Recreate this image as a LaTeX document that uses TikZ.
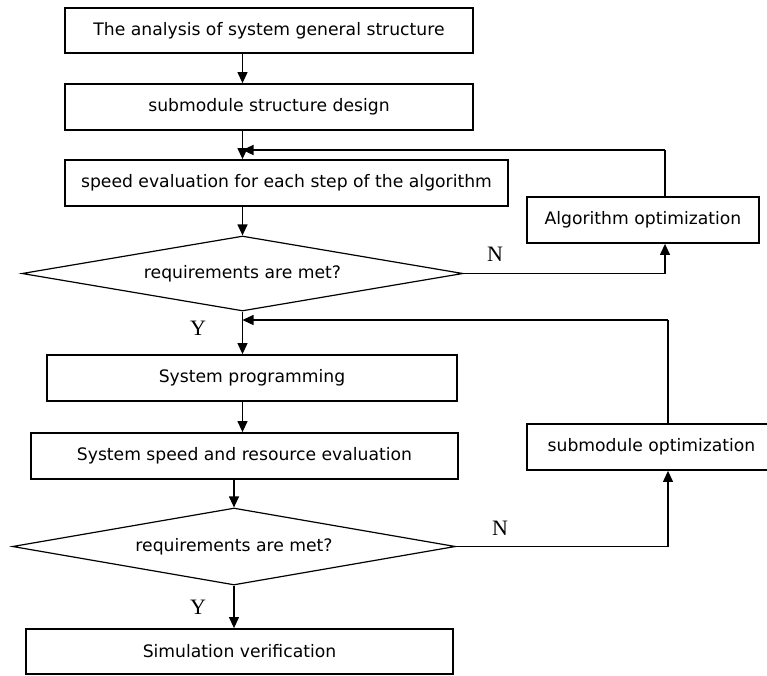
\documentclass[tikz,border=0pt]{standalone}
\usepackage{fontspec}
\setmainfont{DejaVu Sans}
\newfontfamily\ynfont{Liberation Serif}
\usetikzlibrary{arrows.meta, positioning, shapes.geometric, calc}

\begin{document}
\begin{tikzpicture}[
    x=1pt, y=-1pt,
    every node/.style={font=\fontsize{17.2}{20}\selectfont},
    procbox/.style={draw, line width=1.8pt, inner sep=0pt, minimum height=46pt},
    decide/.style={draw, diamond, line width=1.2pt, inner sep=0pt, aspect=5.8},
    flow/.style={line width=1.2pt, -{Triangle[length=11pt, width=10pt]}},
    plain/.style={line width=1.2pt},
    yn/.style={font=\ynfont\fontsize{22}{24}\selectfont},
]
    \useasboundingbox (0,0) rectangle (767,675);

    % main column
    \node[procbox, minimum width=408pt, minimum height=45pt] (analysis) at (269,30.5) {The analysis of system general structure};
    \node[procbox, minimum width=408pt] (subdesign) at (269,107) {submodule structure design};
    \node[procbox, minimum width=443pt] (speedeval) at (286.5,183) {speed evaluation for each step of the algorithm};
    \node[decide, minimum width=441pt, minimum height=75pt] (check1) at (242.5,273.5) {requirements are met?};
    \node[procbox, minimum width=410pt] (sysprog) at (252,378) {System programming};
    \node[procbox, minimum width=427pt] (sysres) at (244.5,456) {System speed and resource evaluation};
    \node[decide, minimum width=443pt, minimum height=77pt] (check2) at (234,546.5) {requirements are met?};
    \node[procbox, minimum width=427pt, minimum height=45pt] (simver) at (239.5,651.5) {Simulation verification};

    % optimisation boxes on the right
    \node[procbox, minimum width=232pt] (algopt) at (643,220) {Algorithm optimization};
    \node[procbox, minimum width=249pt] (subopt) at (651.5,447) {submodule optimization};

    % loop corners
    \coordinate (loopA) at (665,150);
    \coordinate (loopB) at (668,320);

    % straight down
    \draw[flow] (check1.north |- analysis.south) -- (check1.north |- subdesign.north);
    \draw[flow] (check1.north |- subdesign.south) -- (check1.north |- speedeval.north);
    \draw[flow] (check1.north |- speedeval.south) -- (check1.north);
    \draw[flow] (check1.south) -- (check1.south |- sysprog.north);
    \draw[flow] (check1.south |- sysprog.south) -- (check1.south |- sysres.north);
    \draw[flow] (check2.north |- sysres.south) -- (check2.north);
    \draw[flow] (check2.south) -- (check2.south |- simver.north);

    % N branches
    \draw[flow] (check1.east) -| (loopA |- algopt.south);
    \draw[flow] (check2.east) -| (loopB |- subopt.south);

    % feedback
    \draw[plain] (loopA |- algopt.north) -- (loopA);
    \draw[flow] (loopA) -- (check1.north |- loopA);
    \draw[plain] (loopB |- subopt.north) -- (loopB);
    \draw[flow] (loopB) -- (check1.south |- loopB);

    % branch labels
    \node[yn] (nA) at (495,254) {N};
    \node[yn] (yA) at (198,328) {Y};
    \node[yn] (nB) at (500,528) {N};
    \node[yn] (yB) at (198,607) {Y};
\end{tikzpicture}
\end{document}
